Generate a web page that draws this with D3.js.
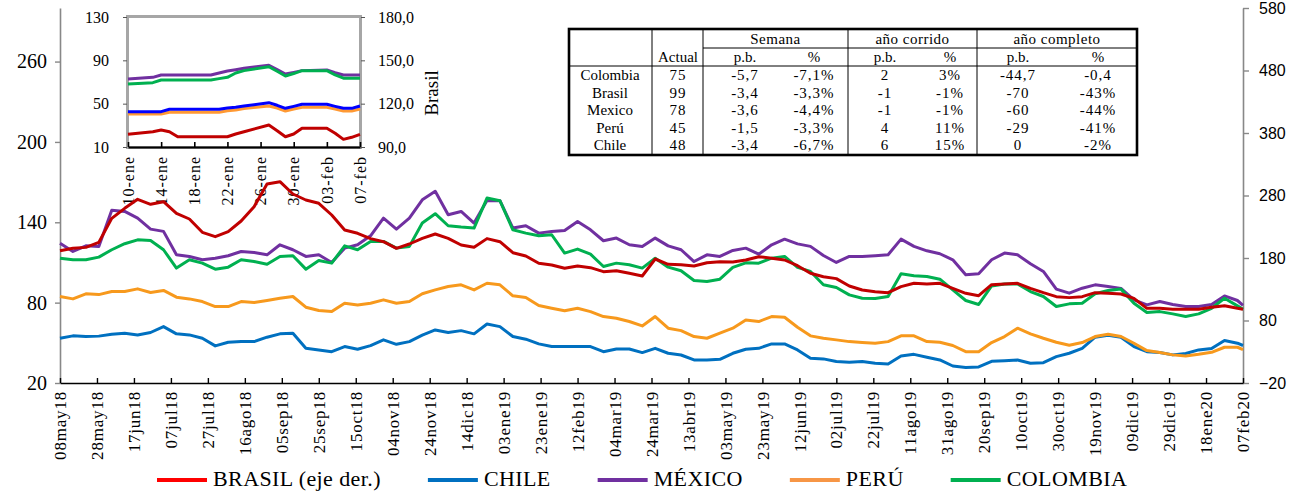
<!DOCTYPE html>
<html><head><meta charset="utf-8">
<script src="https://cdn.jsdelivr.net/npm/d3@7"></script>
<style>body{margin:0;background:#fff}svg{display:block}</style>
</head><body>
<svg id="c" width="1291" height="492"></svg>
<script>
// ---------------- DATA ----------------
const dates = ["2018-05-08","2018-05-15","2018-05-22","2018-05-29","2018-06-05","2018-06-12","2018-06-19","2018-06-26","2018-07-03","2018-07-10","2018-07-17","2018-07-24","2018-07-31","2018-08-07","2018-08-14","2018-08-21","2018-08-28","2018-09-04","2018-09-11","2018-09-18","2018-09-25","2018-10-02","2018-10-09","2018-10-16","2018-10-23","2018-10-30","2018-11-06","2018-11-13","2018-11-20","2018-11-27","2018-12-04","2018-12-11","2018-12-18","2018-12-25","2019-01-01","2019-01-08","2019-01-15","2019-01-22","2019-01-29","2019-02-05","2019-02-12","2019-02-19","2019-02-26","2019-03-05","2019-03-12","2019-03-19","2019-03-26","2019-04-02","2019-04-09","2019-04-16","2019-04-23","2019-04-30","2019-05-07","2019-05-14","2019-05-21","2019-05-28","2019-06-04","2019-06-11","2019-06-18","2019-06-25","2019-07-02","2019-07-09","2019-07-16","2019-07-23","2019-07-30","2019-08-06","2019-08-13","2019-08-20","2019-08-27","2019-09-03","2019-09-10","2019-09-17","2019-09-24","2019-10-01","2019-10-08","2019-10-15","2019-10-22","2019-10-29","2019-11-05","2019-11-12","2019-11-19","2019-11-26","2019-12-03","2019-12-10","2019-12-17","2019-12-24","2019-12-31","2020-01-07","2020-01-14","2020-01-21","2020-01-28","2020-02-04","2020-02-07"];

// Brasil is read on the right axis
const brasil = [191.7,195.5,197,205,243.5,259.5,273.9,265.9,270.1,251.5,242.4,221.1,214.1,222.1,239.2,262.1,298.4,302.1,282.4,272.8,267.5,248.8,224.8,
 219.5,211,206.1,195.5,202.4,211.5,218.4,211.5,200.8,197.1,211,206.1,188.5,183.2,171.5,168.8,163.5,167.2,164.5,158.1,159.7,155.5,151.2,
 178.4,169.9,169.3,167.2,172.5,174.1,173.6,176.8,182.1,179.5,176.8,167.7,155.5,150.1,147,135.2,128.8,126.1,124.5,134.2,139.5,138.4,139.5,
 131.5,123.5,119.7,137.3,138.4,139.5,131.5,124.5,118.1,116.6,118.1,124.5,123.5,122.4,115.5,99.5,99.5,97.9,97.9,97.9,101.1,103.7,99.5,98];
const mexico = [124.4,118.2,122.4,122,148.9,148.1,143.1,134.9,133.2,115.7,114.5,112,113.2,115,118.2,117.5,115.7,123.2,119.5,114.5,115.7,110,120.7,
 123.2,129.9,143.1,134.9,143.1,156.8,163.1,145.6,148.1,139.4,156.3,156.1,135.7,137.4,131.9,133.2,133.9,140.6,134.4,126.2,128.2,123.2,122,
 128.2,122.4,119.5,110.7,115.7,114.5,119,120.7,116.2,123.2,127.4,123.9,122,115.2,110,114.5,114.5,115,115.7,127.4,122,118.7,116.5,
 112,100.8,101.5,112,117,115.7,109,103.3,90.1,87.1,90.8,93.3,92,90.6,82.1,78.3,80.8,78.6,77.1,77.1,78.6,85,81.6,78];
const colombia = [113.2,112,112,114,119.5,124,126.9,126.4,119.5,105.8,112,109.5,105,106.5,112,110.7,108.7,114.5,115,105,111.5,109.5,122.4,
 119.5,125.7,125.7,120.7,122,139.4,146.4,137.4,136.4,135.7,158.1,156.1,134.4,131.9,129.9,130.7,117,120,116.2,107,109.5,108.3,105.8,
 113.2,106.5,103.8,96.5,95.8,97.5,106.3,109.7,109.5,113.2,114.5,106.3,103.3,93.3,91.3,85.8,83.3,83.1,84.6,101.5,100,99.5,97.5,
 89.5,81.6,78.6,92.5,94,94,88.3,84.6,77.1,79.1,79.6,86.6,89.1,90.1,79.6,72.6,73.3,71.6,69.6,71.6,75.8,83.3,77.6,75];
const peru = [84.6,82.8,86.6,86,88.3,88.3,90.3,87.6,89.1,84.1,82.8,80.8,77.1,77.1,80.8,80.1,81.6,83.3,84.6,76.6,74.1,73.3,79.6,
 78.3,79.6,82.1,79.6,80.8,86.6,89.5,92,93.3,89.5,94.5,93.3,85.1,83.8,77.8,75.8,73.9,75.8,73.3,69.6,68.4,65.9,62.6,
 69.6,60.9,59.1,54.7,53.4,57.2,60.9,67.1,65.9,69.6,69.1,61.6,55.2,53.4,52.2,50.9,50.2,49.7,50.9,55.2,55.2,50.9,50.4,
 48,43.4,43.4,50.2,54.7,60.9,56.7,53.4,50.4,48.2,50.2,54.7,56.4,54.7,49.7,44.2,42.7,41,40.2,41.4,42.9,46.7,46.7,45];
const chile = [53.4,55.2,54.7,55,56.4,57.2,55.9,57.7,62.1,56.7,55.9,53.4,47.7,50.4,50.9,50.9,54.2,56.7,57.2,45.9,44.7,43.4,47.2,
 45.2,47.9,52.2,48.9,50.9,55.7,59.6,57.7,59.1,56.7,64.1,62.1,54.7,52.7,49.2,47.2,47.2,47.2,47.2,43.4,45.4,45.4,42.7,
 45.9,42.2,40.9,37.2,37.2,37.7,42.2,45.2,45.9,49.2,49.2,44.7,38.5,38,36,35.5,36,34.7,34.2,40.2,41.4,39.2,37.2,
 32.7,31.5,32,36.2,36.7,37.2,34.7,35.2,39.7,42.2,45.9,54.2,55.7,54.2,47.2,43.4,42.7,41,42,44.7,45.7,51.7,49.7,48];

const xTickLabels = ["08may18","28may18","17jun18","07jul18","27jul18","16ago18","05sep18","25sep18","15oct18","04nov18","24nov18","14dic18","03ene19","23ene19","12feb19","04mar19","24mar19","13abr19","03may19","23may19","12jun19","02jul19","22jul19","11ago19","31ago19","20sep19","10oct19","30oct19","19nov19","09dic19","29dic19","18ene20","07feb20"];
const leftTicks = [20,80,140,200,260];
const rightTicks = [-20,80,180,280,380,480,580];
const legendLabels = ["BRASIL (eje der.)","CHILE","MÉXICO","PERÚ","COLOMBIA"];

// inset (last four weeks)
const insetDates = ["2020-01-10","2020-01-13","2020-01-14","2020-01-15","2020-01-16","2020-01-17","2020-01-20","2020-01-21","2020-01-22","2020-01-23","2020-01-24","2020-01-27","2020-01-28","2020-01-29","2020-01-30","2020-01-31","2020-02-03","2020-02-04","2020-02-05","2020-02-06","2020-02-07"];
const insetMexico   = [72.8,74.3,76.5,76.5,76.5,76.5,76.5,78.3,80.2,81.4,82.6,85.4,81.4,77.4,78.9,80.5,81.1,78.6,76.5,76.5,76.5];
const insetColombia = [68.2,69.4,71.8,71.8,71.8,71.8,71.8,73.1,74.3,78.3,80.5,84.1,79.9,75.5,77.8,80.5,80.5,76.5,73.5,73.5,73.5];
const insetChile    = [42.6,42.6,42.6,44.8,44.8,44.8,44.8,44.8,46,46.6,47.8,50.9,48.5,45.7,47.5,49.4,49.4,47.5,45.7,45.7,47.8];
const insetPeru     = [40.5,40.5,40.5,42,42,42,42,42,43.5,44.2,45.5,47.8,46,43.2,45,46.6,46.6,45,43.2,43.2,45.1];
const insetBrasil   = [98.8,100.6,101.8,100.6,97.1,97.1,97.1,97.1,97.1,99,100.6,105.2,101.3,97.1,99,103,103,99.5,95.3,96.7,98.8];
const insetTickLabels = ["10-ene","14-ene","18-ene","22-ene","26-ene","30-ene","03-feb","07-feb"];
const insetTickDates  = ["2020-01-10","2020-01-14","2020-01-18","2020-01-22","2020-01-26","2020-01-30","2020-02-03","2020-02-07"];
const insetLeftTicks  = [10,50,90,130];
const insetRightTicks = [90,120,150,180];
const insetRightTitle = "Brasil";

// table
const tableGroups   = ["Semana","año corrido","año completo"];
const tableSubHead  = ["Actual","p.b.","%","p.b.","%","p.b.","%"];
const tableCountries= ["Colombia","Brasil","Mexico","Perú","Chile"];
const tableActual   = ["75","99","78","45","48"];
const semanaPb      = ["-5,7","-3,4","-3,6","-1,5","-3,4"];
const semanaPct     = ["-7,1%","-3,3%","-4,4%","-3,3%","-6,7%"];
const corridoPb     = ["2","-1","-1","4","6"];
const corridoPct    = ["3%","-1%","-1%","11%","15%"];
const completoPb    = ["-44,7","-70","-60","-29","0"];
const completoPct   = ["-0,4","-43%","-44%","-41%","-2%"];

// ---------------- DRAW ----------------
const SERIF = "'Liberation Serif','Times New Roman',Times,serif";
const SANS = "'Liberation Sans',Arial,Helvetica,sans-serif";
const parse = d3.utcParse("%Y-%m-%d");
const svg = d3.select("#c");
svg.append("rect").attr("width",1291).attr("height",492).attr("fill","#fff");

const P = {l:60, r:1243, t:8, b:383};
const x = d3.scaleUtc().domain([parse(dates[0]), parse(dates[dates.length-1])]).range([P.l,P.r]);
const yL = d3.scaleLinear().domain([20,300]).range([P.b,P.t]);
const yR = d3.scaleLinear().domain([-20,580]).range([P.b,P.t]);

const mon = {ene:0,feb:1,mar:2,abr:3,may:4,jun:5,jul:6,ago:7,sep:8,oct:9,nov:10,dic:11};
const tickDates = xTickLabels.map(s => new Date(Date.UTC(2000 + +s.slice(-2), mon[s.slice(2,-2)], +s.slice(0,2))));

// left axis
const gL = svg.append("g").attr("transform",`translate(${P.l},0)`)
  .call(d3.axisLeft(yL).tickValues(leftTicks).tickSize(5).tickSizeOuter(0).tickPadding(8));
gL.attr("font-family",SERIF).attr("font-size",20);
gL.select(".domain").attr("stroke","#888").attr("stroke-width",1.6);
gL.selectAll(".tick line").attr("stroke","#888").attr("stroke-width",1.4);
gL.selectAll(".tick text").attr("fill","#000");

// right axis
const gR = svg.append("g").attr("transform",`translate(${P.r},0)`)
  .call(d3.axisRight(yR).tickValues(rightTicks).tickSize(6).tickSizeOuter(0).tickPadding(10));
gR.attr("font-family",SANS).attr("font-size",16);
gR.select(".domain").attr("stroke","#888").attr("stroke-width",1.6);
gR.selectAll(".tick line").attr("stroke","#888").attr("stroke-width",1.4);
gR.selectAll(".tick text").attr("fill","#000");

// bottom axis
const gB = svg.append("g").attr("transform",`translate(0,${P.b})`)
  .call(d3.axisBottom(x).tickValues(tickDates).tickSize(-5).tickSizeOuter(0).tickFormat((d,i)=>xTickLabels[i]));
gB.attr("font-family",SERIF).attr("font-size",17);
gB.select(".domain").attr("stroke","#000").attr("stroke-width",1.6);
gB.selectAll(".tick line").attr("stroke","#000").attr("stroke-width",1.4);
gB.selectAll(".tick text").attr("fill","#000")
  .attr("transform","rotate(-90)").attr("x",-8).attr("y",0).attr("dy","0.33em")
  .style("text-anchor","end").style("letter-spacing","0.8px");

// ---------- inset ----------
const I = {l:128, r:360, t:17, b:147};
const xi = d3.scaleUtc().domain([parse(insetDates[0]), parse(insetDates[insetDates.length-1])]).range([I.l,I.r]);
const yiL = d3.scaleLinear().domain([10,130]).range([I.b,I.t]);
const yiR = d3.scaleLinear().domain([90,180]).range([I.b,I.t]);
const gi = svg.append("g");
gi.append("rect").attr("x",I.l-0.5).attr("y",I.t-0.5).attr("width",I.r-I.l+1).attr("height",I.b-I.t+1)
  .attr("fill","#fff").attr("stroke","#a6a6a6").attr("stroke-width",3);
const giL = gi.append("g").attr("transform",`translate(${I.l-1},0)`)
  .call(d3.axisLeft(yiL).tickValues(insetLeftTicks).tickSize(4).tickSizeOuter(0).tickPadding(14));
giL.attr("font-family",SERIF).attr("font-size",16);
giL.select(".domain").remove();
giL.selectAll(".tick line").attr("stroke","#555");
giL.selectAll(".tick text").attr("fill","#000");
const giR = gi.append("g").attr("transform",`translate(${I.r+1},0)`)
  .call(d3.axisRight(yiR).tickValues(insetRightTicks).tickSize(4).tickSizeOuter(0).tickPadding(13).tickFormat(d=>d3.format(".1f")(d).replace(".",",")));
giR.attr("font-family",SERIF).attr("font-size",16);
giR.select(".domain").remove();
giR.selectAll(".tick line").attr("stroke","#555");
giR.selectAll(".tick text").attr("fill","#000");
const giB = gi.append("g").attr("transform",`translate(0,${I.b})`)
  .call(d3.axisBottom(xi).tickValues(insetTickDates.map(parse)).tickSize(-5).tickSizeOuter(0).tickFormat((d,i)=>insetTickLabels[i]));
giB.attr("font-family",SERIF).attr("font-size",16);
giB.select(".domain").attr("stroke","#000").attr("stroke-width",2.2);
giB.selectAll(".tick line").attr("stroke","#000").attr("stroke-width",1.6);
giB.selectAll(".tick text").attr("fill","#000")
  .attr("transform","rotate(-90)").attr("x",-9).attr("y",0).attr("dy","0.33em")
  .style("text-anchor","end").style("letter-spacing","1px");
gi.append("text").attr("transform",`translate(438,93) rotate(-90)`).attr("text-anchor","middle")
  .attr("font-family",SERIF).attr("font-size",19).text(insetRightTitle);

const insetSeries = [
  {v:insetMexico,   c:"#7030a0", s:yiL},
  {v:insetColombia, c:"#00b050", s:yiL},
  {v:insetPeru,     c:"#ff9933", s:yiL},
  {v:insetChile,    c:"#0000ff", s:yiL},
  {v:insetBrasil,   c:"#c00000", s:yiR}
];
insetSeries.forEach(o=>{
  gi.append("path").datum(o.v)
    .attr("d", d3.line().x((d,i)=>xi(parse(insetDates[i]))).y(d=>o.s(d)))
    .attr("fill","none").attr("stroke",o.c).attr("stroke-width",3).attr("stroke-linejoin","round");
});

// ---------- main lines ----------
const mainSeries = [
  {v:chile,    c:"#0070c0", s:yL},
  {v:peru,     c:"#f7991d", s:yL},
  {v:mexico,   c:"#7030a0", s:yL},
  {v:colombia, c:"#00b050", s:yL},
  {v:brasil,   c:"#c00000", s:yR}
];
const gLines = svg.append("g");
mainSeries.forEach(o=>{
  gLines.append("path").datum(o.v)
    .attr("d", d3.line().x((d,i)=>x(parse(dates[i]))).y(d=>o.s(d)))
    .attr("fill","none").attr("stroke",o.c).attr("stroke-width",3).attr("stroke-linejoin","round");
});

// ---------- table ----------
const T = {x0:569, x1:1137, y0:29, y1:155};
const gt = svg.append("g").attr("font-family",SERIF).attr("font-size",15);
gt.append("rect").attr("x",T.x0).attr("y",T.y0).attr("width",T.x1-T.x0).attr("height",T.y1-T.y0)
  .attr("fill","#fff").attr("stroke","#000").attr("stroke-width",2.6);
[652,703,848,977].forEach(vx=>gt.append("line").attr("x1",vx).attr("x2",vx).attr("y1",T.y0).attr("y2",T.y1).attr("stroke","#000").attr("stroke-width",1));
gt.append("line").attr("x1",703).attr("x2",T.x1).attr("y1",48).attr("y2",48).attr("stroke","#000");
gt.append("line").attr("x1",T.x0).attr("x2",T.x1).attr("y1",66).attr("y2",66).attr("stroke","#000");
const grpCenters = [775.5,912.5,1057];
tableGroups.forEach((g,i)=>gt.append("text").attr("x",grpCenters[i]).attr("y",39).attr("dy","0.35em").attr("text-anchor","middle").style("letter-spacing","0.5px").text(g));
const colC = [678,745,814,885,950,1018,1098];
tableSubHead.forEach((h,i)=>gt.append("text").attr("x",colC[i]).attr("y",57).attr("dy","0.35em").attr("text-anchor","middle").text(h));
const cols = [tableActual,semanaPb,semanaPct,corridoPb,corridoPct,completoPb,completoPct];
tableCountries.forEach((c,r)=>{
  const yy = 75 + r*17.5;
  gt.append("text").attr("x",610).attr("y",yy).attr("dy","0.35em").attr("text-anchor","middle").text(c);
  cols.forEach((col,j)=>gt.append("text").attr("x",colC[j]).attr("y",yy).attr("dy","0.35em").attr("text-anchor","middle").style("letter-spacing","1px").text(col[r]));
});

// ---------- legend ----------
const legendColors = ["#ff0000","#0070c0","#7030a0","#f79646","#00b050"];
const gLeg = svg.append("g").attr("font-family",SERIF).attr("font-size",22);
let lx = 157;
legendLabels.forEach((lab,i)=>{
  gLeg.append("line").attr("x1",lx).attr("x2",lx+50).attr("y1",480).attr("y2",480)
    .attr("stroke",legendColors[i]).attr("stroke-width",4);
  const t = gLeg.append("text").attr("x",lx+56).attr("y",486).style("letter-spacing","0.4px").text(lab);
  lx = lx + 56 + t.node().getComputedTextLength() + 47;
});
</script>
</body></html>
